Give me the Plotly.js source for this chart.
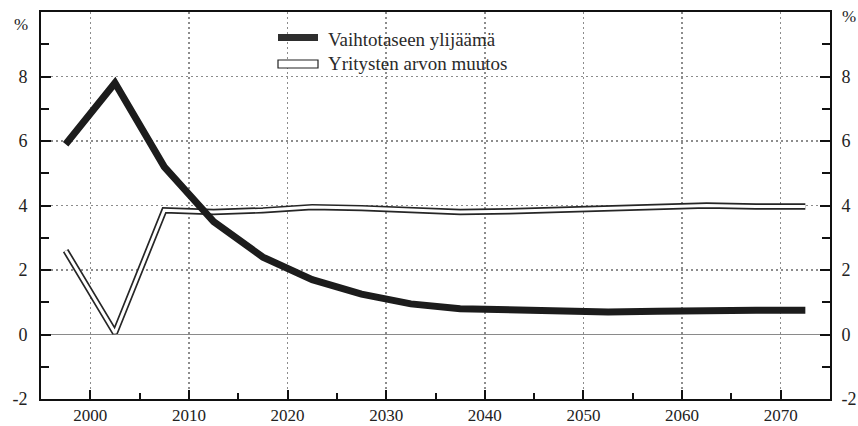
<!DOCTYPE html>
<html><head><meta charset="utf-8">
<script src="https://cdn.plot.ly/plotly-3.0.1.min.js"></script>
<style>html,body{margin:0;padding:0;background:#fff}#chart{width:858px;height:426px}</style>
</head><body><div id="chart"></div>
<script>
const years = [1997.5, 2002.5, 2007.5, 2012.5, 2017.5, 2022.5, 2027.5, 2032.5, 2037.5, 2042.5, 2047.5, 2052.5, 2057.5, 2062.5, 2067.5, 2072.5];
const vaihtotase = [5.9, 7.8, 5.2, 3.5, 2.4, 1.7, 1.25, 0.95, 0.8, 0.75, 0.7, 0.7, 0.72, 0.75, 0.75, 0.75];
const arvonMuutos = [2.6, 0.05, 3.85, 3.8, 3.85, 3.95, 3.92, 3.85, 3.8, 3.82, 3.87, 3.92, 3.97, 4.0, 3.97, 3.97];
const seriesNames = ['Vaihtotaseen ylijäämä', 'Yritysten arvon muutos'];
const xTickVals = [2000, 2010, 2020, 2030, 2040, 2050, 2060, 2070];
const xTickText = ['2000', '2010', '2020', '2030', '2040', '2050', '2060', '2070'];
const xMinorVals = [2005, 2015, 2025, 2035, 2045, 2055, 2065];
const yTickVals = [-2, 0, 2, 4, 6, 8];
const yTickText = ['-2', '0', '2', '4', '6', '8'];
const yMinorVals = [-1, 1, 3, 5, 7, 9];
const unitLabel = '%';

const FONT = 'Liberation Serif';
const plotL = 41, plotR = 830, plotT = 12, plotB = 399;
const W = plotR - plotL, H = plotB - plotT;
const px = x => (x - plotL) / W;
const py = y => 1 - (y - plotT) / H;

const traces = [
  {x: years, y: arvonMuutos, type: 'scatter', mode: 'lines', name: seriesNames[1],
   line: {color: '#262626', width: 6.4}},
  {x: years, y: arvonMuutos, type: 'scatter', mode: 'lines', name: seriesNames[1],
   line: {color: '#ffffff', width: 3.0}},
  {x: years, y: vaihtotase, type: 'scatter', mode: 'lines', name: seriesNames[0],
   line: {color: '#1c1c1c', width: 7}},
  {x: years, y: vaihtotase, type: 'scatter', mode: 'lines', yaxis: 'y2', name: seriesNames[0],
   line: {color: 'rgba(0,0,0,0)', width: 0}, opacity: 0}
];

function yAxis(side) {
  const a = {
    range: [-2, 10], tickmode: 'array', tickvals: yTickVals.slice(), ticktext: yTickText.slice(),
    ticks: 'inside', ticklen: 10, tickwidth: 2, tickcolor: '#111',
    showline: true, linecolor: '#111', linewidth: 2, side: side,
    minor: {tickmode: 'array', tickvals: yMinorVals.slice(), ticks: 'inside', ticklen: 8, tickwidth: 2, tickcolor: '#111', showgrid: false},
    showticklabels: true,
    tickfont: {family: FONT, size: 18, color: '#222'}, ticklabelstandoff: 8, fixedrange: true
  };
  if (side === 'left') {
    Object.assign(a, {showgrid: true, gridcolor: '#8c8c8c', gridwidth: 1.6, griddash: '2px,3px',
      zeroline: true, zerolinecolor: '#8a8a8a', zerolinewidth: 1.2});
  } else {
    Object.assign(a, {overlaying: 'y', anchor: 'x', showgrid: false, zeroline: false, ticklabelstandoff: 6});
  }
  return a;
}

const layout = {
  width: 858, height: 426,
  margin: {l: plotL, r: 858 - plotR, t: plotT, b: 426 - plotB, pad: 0},
  paper_bgcolor: '#fff', plot_bgcolor: '#fff',
  showlegend: false,
  font: {family: FONT, size: 18, color: '#222'},
  xaxis: {
    range: [1995, 2075], tickmode: 'array', tickvals: xTickVals, ticktext: xTickText,
    ticks: 'inside', ticklen: 9, tickwidth: 2, tickcolor: '#111',
    showline: true, linecolor: '#111', linewidth: 2, mirror: true, zeroline: false,
    showgrid: true, gridcolor: '#8c8c8c', gridwidth: 1.6, griddash: '2px,3px',
    minor: {tickmode: 'array', tickvals: xMinorVals, ticks: 'inside', ticklen: 6, tickwidth: 2, tickcolor: '#111', showgrid: false},
    tickfont: {family: FONT, size: 17, color: '#222'}, ticklabelstandoff: 0, fixedrange: true
  },
  yaxis: yAxis('left'),
  yaxis2: yAxis('right'),
  shapes: [
    {type: 'rect', xref: 'paper', yref: 'paper', x0: px(278), x1: px(318), y0: py(41), y1: py(34),
     fillcolor: '#2e2e2e', line: {width: 0}},
    {type: 'rect', xref: 'paper', yref: 'paper', x0: px(278), x1: px(318), y0: py(68), y1: py(60),
     fillcolor: '#ffffff', line: {color: '#222', width: 1.2}}
  ],
  annotations: [
    {xref: 'paper', yref: 'paper', x: px(326), y: py(39), xanchor: 'left', yanchor: 'middle', showarrow: false,
     text: seriesNames[0], font: {family: FONT, size: 19, color: '#2a2a2a'}},
    {xref: 'paper', yref: 'paper', x: px(326), y: py(64), xanchor: 'left', yanchor: 'middle', showarrow: false,
     text: seriesNames[1], font: {family: FONT, size: 19, color: '#2a2a2a'}},
    {xref: 'paper', yref: 'paper', x: px(21), y: py(24), xanchor: 'center', yanchor: 'middle', showarrow: false,
     text: unitLabel, font: {family: FONT, size: 17, color: '#222'}},
    {xref: 'paper', yref: 'paper', x: px(849), y: py(17), xanchor: 'center', yanchor: 'middle', showarrow: false,
     text: unitLabel, font: {family: FONT, size: 17, color: '#222'}}
  ]
};

Plotly.newPlot('chart', traces, layout, {displayModeBar: false, staticPlot: true});
</script>
</body></html>
